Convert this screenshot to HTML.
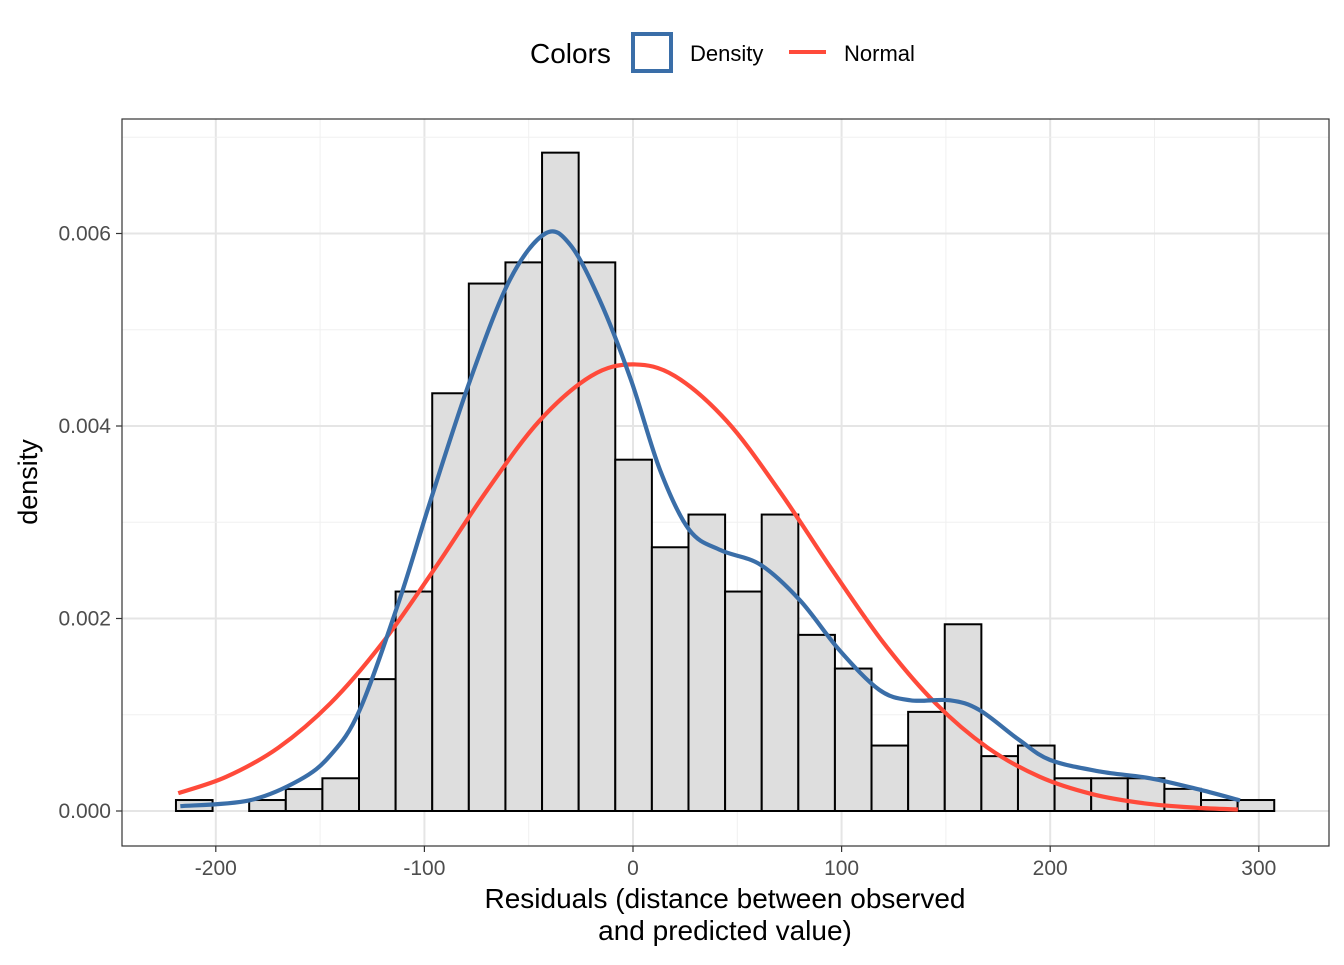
<!DOCTYPE html>
<html><head><meta charset="utf-8">
<style>
body{margin:0;background:#fff;font-family:"Liberation Sans",sans-serif;}
svg text{font-family:"Liberation Sans",sans-serif;}
</style></head><body>
<svg id="chart" width="1344" height="960"></svg>
<script>
const binStart = -219.1;
const binWidth = 17.55;
const binDensity = [0.000114,0,0.000114,0.000228,0.00034,0.00137,0.00228,0.00434,0.00548,0.0057,0.00684,0.0057,0.00365,0.00274,0.00308,0.00228,0.00308,0.00183,0.00148,0.00068,0.00103,0.00194,0.00057,0.00068,0.00034,0.00034,0.00034,0.00023,0.000114,0.000114];
const densX = [-217,-184,-160,-145,-131,-112,-97,-78,-59,-42,-30,-16,-1,13,27,42,61,80,99,118,133,152,166,185,200,224,248,272,291];
const densY = [0.00005,0.00011,0.00032,0.00058,0.00105,0.00219,0.00323,0.00448,0.00552,0.0060,0.00588,0.00531,0.00448,0.00354,0.00292,0.00271,0.00256,0.00219,0.00167,0.00126,0.00115,0.00115,0.00105,0.00074,0.00053,0.00041,0.00034,0.00022,0.00011];
const normX = [-218,-195,-170,-145,-120,-95,-70,-45,-20,0,20,45,70,95,120,145,170,195,220,245,270,290];
const normY = [0.000185,0.000355,0.000658,0.00112,0.00175,0.00252,0.00333,0.00405,0.00452,0.00464,0.00452,0.00405,0.00333,0.00252,0.00175,0.00112,0.000658,0.000355,0.000176,0.00008,0.0000336,0.0000157];
const xTicks = [-200,-100,0,100,200,300];
const yTicks = [0,0.002,0.004,0.006];
const yTickLabels = ["0.000","0.002","0.004","0.006"];

const NS="http://www.w3.org/2000/svg";
const svg=document.getElementById('chart');
const PL=122,PR=1329,PT=119,PB=846;
const xs=v=>633+v*2.086;
const ys=v=>811-v*96250;
function mk(tag,attrs,parent){const e=document.createElementNS(NS,tag);for(const k in attrs)e.setAttribute(k,attrs[k]);(parent||svg).appendChild(e);return e;}

const grid=mk('g',{});


for(let i=0;i<xTicks.length;i++){
  mk('line',{x1:xs(xTicks[i]),x2:xs(xTicks[i]),y1:PT,y2:PB,stroke:'#e5e5e5','stroke-width':2},grid);
  if(i<xTicks.length-1){const m=(xTicks[i]+xTicks[i+1])/2;mk('line',{x1:xs(m),x2:xs(m),y1:PT,y2:PB,stroke:'#f0f0f0','stroke-width':1},grid);}
}
for(let i=0;i<yTicks.length;i++){
  mk('line',{x1:PL,x2:PR,y1:ys(yTicks[i]),y2:ys(yTicks[i]),stroke:'#e5e5e5','stroke-width':2},grid);
  const m=yTicks[i]+0.001;mk('line',{x1:PL,x2:PR,y1:ys(m),y2:ys(m),stroke:'#f0f0f0','stroke-width':1},grid);
}
const bars=mk('g',{});


binDensity.forEach((d,i)=>{
  const x0=xs(binStart+i*binWidth),x1=xs(binStart+(i+1)*binWidth);
  const r=mk('rect',{x:x0,y:ys(d),width:x1-x0,height:ys(0)-ys(d),fill:'#dedede',stroke:'#000','stroke-width':2},bars);
  
  
});
function line(xa,ya,color,name){
  const P=xa.map((x,i)=>[xs(x),ys(ya[i])]);
  let d='M'+P[0][0]+','+P[0][1];
  for(let i=0;i<P.length-1;i++){
    const p0=P[Math.max(0,i-1)],p1=P[i],p2=P[i+1],p3=P[Math.min(P.length-1,i+2)];
    const c1=[p1[0]+(p2[0]-p0[0])/6,p1[1]+(p2[1]-p0[1])/6];
    const c2=[p2[0]-(p3[0]-p1[0])/6,p2[1]-(p3[1]-p1[1])/6];
    d+=' C'+c1[0]+','+c1[1]+' '+c2[0]+','+c2[1]+' '+p2[0]+','+p2[1];
  }
  const p=mk('path',{d:d,fill:'none',stroke:color,'stroke-width':4.2,'stroke-linejoin':'round'});
  
  
}
line(normX,normY,'#ff4a3a','normal-curve');
line(densX,densY,'#3a6ea8','density-curve');
const border=mk('rect',{x:PL,y:PT,width:PR-PL,height:PB-PT,fill:'none',stroke:'#333','stroke-width':1.2});


xTicks.forEach(v=>{
  mk('line',{x1:xs(v),x2:xs(v),y1:PB,y2:PB+6,stroke:'#333','stroke-width':1.2});
  const t=mk('text',{x:xs(v),y:PB+29,'text-anchor':'middle','font-size':21,fill:'#4d4d4d'});t.textContent=v;
  
  
});
yTicks.forEach((v,i)=>{
  mk('line',{x1:PL-6,x2:PL,y1:ys(v),y2:ys(v),stroke:'#333','stroke-width':1.2});
  const t=mk('text',{x:PL-11,y:ys(v)+7,'text-anchor':'end','font-size':21,fill:'#4d4d4d'});t.textContent=yTickLabels[i];
  
  
});
</script>
<svg width="1344" height="960" style="position:absolute;left:0;top:0">
<text x="725" y="908" text-anchor="middle" font-size="28">Residuals (distance between observed</text>
<text x="725" y="940" text-anchor="middle" font-size="28">and predicted value)</text>
<text transform="translate(37,482) rotate(-90)" text-anchor="middle" font-size="27">density</text>
<g>
<text x="530" y="63" font-size="28">Colors</text>
<rect x="633" y="34" width="38" height="37" fill="#fff" stroke="#3a6ea8" stroke-width="4"/>
<text x="690" y="61" font-size="22">Density</text>
<line x1="789" y1="52" x2="826" y2="52" stroke="#ff4a3a" stroke-width="4"/>
<text x="844" y="61" font-size="22">Normal</text>
</g>
</svg>
</body></html>
